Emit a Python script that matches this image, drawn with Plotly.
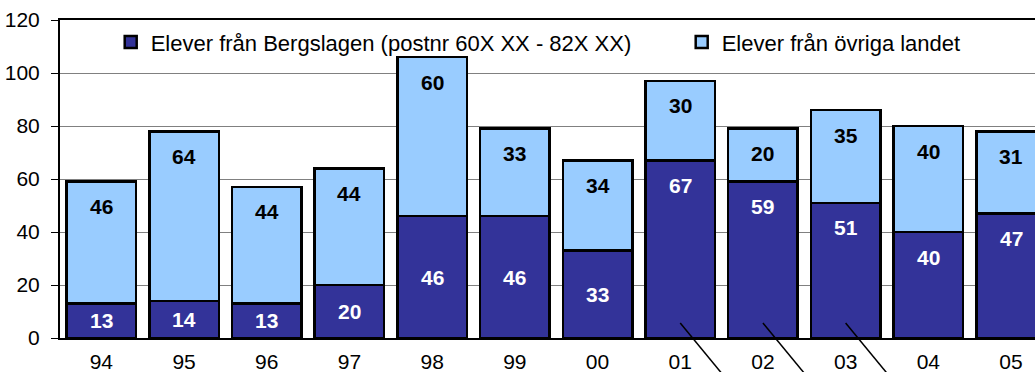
import plotly.graph_objects as go

years = ["94", "95", "96", "97", "98", "99", "00", "01", "02", "03", "04", "05"]
bergslagen = [13, 14, 13, 20, 46, 46, 33, 67, 59, 51, 40, 47]
ovriga = [46, 64, 44, 44, 60, 33, 34, 30, 20, 35, 40, 31]
y_ticks = [0, 20, 40, 60, 80, 100, 120]

name_berg = "Elever från Bergslagen (postnr 60X XX - 82X XX)"
name_ovr = "Elever från övriga landet"

# style: which dark labels sit at the inner top instead of centred
dark_label_top = [False] * 7 + [True] * 5
leader_bars = ["01", "02", "03"]

FONT = "Liberation Sans, Arial, sans-serif"
DARK = "#333399"
LIGHT = "#99CCFF"

fig = go.Figure()
fig.add_trace(go.Bar(x=years, y=bergslagen, name=name_berg, legendwidth=526,
                     marker=dict(color=DARK, line=dict(color="black", width=2.5))))
fig.add_trace(go.Bar(x=years, y=ovriga, name=name_ovr,
                     marker=dict(color=LIGHT, line=dict(color="black", width=2.5))))

annotations = []
for i, yr in enumerate(years):
    b = bergslagen[i]
    o = ovriga[i]
    tot = b + o
    annotations.append(dict(x=i, y=tot, xref="x", yref="y", text=str(o),
                            showarrow=False, yshift=-25, yanchor="middle",
                            font=dict(family=FONT, size=21, color="black", weight="bold")))
    if dark_label_top[i]:
        annotations.append(dict(x=i, y=b, xref="x", yref="y", text=str(b),
                                showarrow=False, yshift=-25, yanchor="middle",
                                font=dict(family=FONT, size=21, color="white", weight="bold")))
    else:
        annotations.append(dict(x=i, y=b / 2, xref="x", yref="y", text=str(b),
                                showarrow=False, yanchor="middle",
                                font=dict(family=FONT, size=21, color="white", weight="bold")))

shapes = []
for yr in leader_bars:
    i = years.index(yr)
    shapes.append(dict(type="line", xref="x", yref="paper",
                       x0=i, y0=0.047, x1=i + 0.577, y1=-0.135,
                       line=dict(color="black", width=1.5), layer="above"))

fig.update_layout(
    barmode="stack",
    bargap=0.16,
    width=1035, height=372,
    margin=dict(l=60, r=0, t=20, b=34, autoexpand=False),
    paper_bgcolor="white", plot_bgcolor="white",
    font=dict(family=FONT, size=21, color="black"),
    showlegend=True,
    legend=dict(orientation="h", x=0.052, y=0.93, xanchor="left", yanchor="middle",
                font=dict(family=FONT, size=22, color="black"),
                bgcolor="rgba(255,255,255,0)", traceorder="normal",
                itemclick=False),
    annotations=annotations,
    shapes=shapes,
)
fig.update_xaxes(type="category", range=[-0.5, 11.29], showline=True, linecolor="black",
                 linewidth=2, mirror=True, ticks="", showgrid=False, automargin=False,
                 tickfont=dict(family=FONT, size=21), ticklabelstandoff=4)
fig.update_yaxes(range=[0, 120], tickvals=y_ticks, showline=True, linecolor="black",
                 linewidth=2, ticks="outside", ticklen=7, tickcolor="black", tickwidth=1,
                 showgrid=True, gridcolor="#808080", gridwidth=1, zeroline=False,
                 automargin=False,
                 tickfont=dict(family=FONT, size=21), ticklabelstandoff=7)

fig.write_html("out.html")
